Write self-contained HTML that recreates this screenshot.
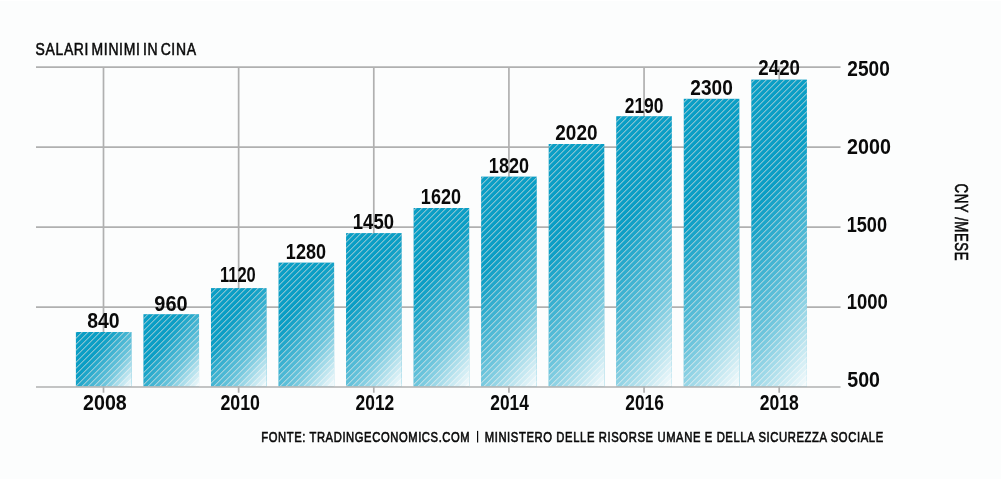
<!DOCTYPE html>
<html><head><meta charset="utf-8"><title>Salari minimi in Cina</title><style>
html,body{margin:0;padding:0;background:#fcfdfd;}
svg{display:block;}
text{font-family:"Liberation Sans",sans-serif;fill:#0a0a0a;}
</style></head><body>
<svg width="1001" height="479" viewBox="0 0 1001 479">
<defs>
</defs>
<rect x="0" y="1" width="1001" height="478" fill="#fcfdfd"/>
<rect x="0" y="0" width="1001" height="1" fill="#ffffff"/>

<line x1="36" y1="67.10" x2="840.5" y2="67.10" stroke="#b0b0b0" stroke-width="1.7"/>
<line x1="36" y1="147.10" x2="840.5" y2="147.10" stroke="#b0b0b0" stroke-width="1.7"/>
<line x1="36" y1="227.10" x2="840.5" y2="227.10" stroke="#b0b0b0" stroke-width="1.7"/>
<line x1="36" y1="307.10" x2="840.5" y2="307.10" stroke="#b0b0b0" stroke-width="1.7"/>
<line x1="103.50" y1="67.10" x2="103.50" y2="392.7" stroke="#b0b0b0" stroke-width="1.7"/>
<line x1="238.64" y1="67.10" x2="238.64" y2="392.7" stroke="#b0b0b0" stroke-width="1.7"/>
<line x1="373.78" y1="67.10" x2="373.78" y2="392.7" stroke="#b0b0b0" stroke-width="1.7"/>
<line x1="508.92" y1="67.10" x2="508.92" y2="392.7" stroke="#b0b0b0" stroke-width="1.7"/>
<line x1="644.06" y1="67.10" x2="644.06" y2="392.7" stroke="#b0b0b0" stroke-width="1.7"/>
<line x1="779.20" y1="67.10" x2="779.20" y2="392.7" stroke="#b0b0b0" stroke-width="1.7"/>
<rect x="75.90" y="332.00" width="55.6" height="54.50" fill="#0a9ec5"/>
<rect x="143.44" y="314.20" width="55.6" height="72.30" fill="#0a9ec5"/>
<rect x="210.98" y="288.10" width="55.6" height="98.40" fill="#0a9ec5"/>
<rect x="278.52" y="262.60" width="55.6" height="123.90" fill="#0a9ec5"/>
<rect x="346.06" y="233.10" width="55.6" height="153.40" fill="#0a9ec5"/>
<rect x="413.60" y="208.00" width="55.6" height="178.50" fill="#0a9ec5"/>
<rect x="481.14" y="176.60" width="55.6" height="209.90" fill="#0a9ec5"/>
<rect x="548.68" y="144.00" width="55.6" height="242.50" fill="#0a9ec5"/>
<rect x="616.22" y="116.20" width="55.6" height="270.30" fill="#0a9ec5"/>
<rect x="683.76" y="98.80" width="55.6" height="287.70" fill="#0a9ec5"/>
<rect x="751.30" y="79.60" width="55.6" height="306.90" fill="#0a9ec5"/>
<clipPath id="bc"><rect x="75.90" y="332.00" width="55.6" height="54.50"/><rect x="143.44" y="314.20" width="55.6" height="72.30"/><rect x="210.98" y="288.10" width="55.6" height="98.40"/><rect x="278.52" y="262.60" width="55.6" height="123.90"/><rect x="346.06" y="233.10" width="55.6" height="153.40"/><rect x="413.60" y="208.00" width="55.6" height="178.50"/><rect x="481.14" y="176.60" width="55.6" height="209.90"/><rect x="548.68" y="144.00" width="55.6" height="242.50"/><rect x="616.22" y="116.20" width="55.6" height="270.30"/><rect x="683.76" y="98.80" width="55.6" height="287.70"/><rect x="751.30" y="79.60" width="55.6" height="306.90"/></clipPath>
<path clip-path="url(#bc)" d="M-339.65 400L0.35 60M-333.65 400L6.35 60M-327.65 400L12.35 60M-321.65 400L18.35 60M-315.65 400L24.35 60M-309.65 400L30.35 60M-303.65 400L36.35 60M-297.65 400L42.35 60M-291.65 400L48.35 60M-285.65 400L54.35 60M-279.65 400L60.35 60M-273.65 400L66.35 60M-267.65 400L72.35 60M-261.65 400L78.35 60M-255.65 400L84.35 60M-249.65 400L90.35 60M-243.65 400L96.35 60M-237.65 400L102.35 60M-231.65 400L108.35 60M-225.65 400L114.35 60M-219.65 400L120.35 60M-213.65 400L126.35 60M-207.65 400L132.35 60M-201.65 400L138.35 60M-195.65 400L144.35 60M-189.65 400L150.35 60M-183.65 400L156.35 60M-177.65 400L162.35 60M-171.65 400L168.35 60M-165.65 400L174.35 60M-159.65 400L180.35 60M-153.65 400L186.35 60M-147.65 400L192.35 60M-141.65 400L198.35 60M-135.65 400L204.35 60M-129.65 400L210.35 60M-123.65 400L216.35 60M-117.65 400L222.35 60M-111.65 400L228.35 60M-105.65 400L234.35 60M-99.65 400L240.35 60M-93.65 400L246.35 60M-87.65 400L252.35 60M-81.65 400L258.35 60M-75.65 400L264.35 60M-69.65 400L270.35 60M-63.65 400L276.35 60M-57.65 400L282.35 60M-51.65 400L288.35 60M-45.65 400L294.35 60M-39.65 400L300.35 60M-33.65 400L306.35 60M-27.65 400L312.35 60M-21.65 400L318.35 60M-15.65 400L324.35 60M-9.65 400L330.35 60M-3.65 400L336.35 60M2.35 400L342.35 60M8.35 400L348.35 60M14.35 400L354.35 60M20.35 400L360.35 60M26.35 400L366.35 60M32.35 400L372.35 60M38.35 400L378.35 60M44.35 400L384.35 60M50.35 400L390.35 60M56.35 400L396.35 60M62.35 400L402.35 60M68.35 400L408.35 60M74.35 400L414.35 60M80.35 400L420.35 60M86.35 400L426.35 60M92.35 400L432.35 60M98.35 400L438.35 60M104.35 400L444.35 60M110.35 400L450.35 60M116.35 400L456.35 60M122.35 400L462.35 60M128.35 400L468.35 60M134.35 400L474.35 60M140.35 400L480.35 60M146.35 400L486.35 60M152.35 400L492.35 60M158.35 400L498.35 60M164.35 400L504.35 60M170.35 400L510.35 60M176.35 400L516.35 60M182.35 400L522.35 60M188.35 400L528.35 60M194.35 400L534.35 60M200.35 400L540.35 60M206.35 400L546.35 60M212.35 400L552.35 60M218.35 400L558.35 60M224.35 400L564.35 60M230.35 400L570.35 60M236.35 400L576.35 60M242.35 400L582.35 60M248.35 400L588.35 60M254.35 400L594.35 60M260.35 400L600.35 60M266.35 400L606.35 60M272.35 400L612.35 60M278.35 400L618.35 60M284.35 400L624.35 60M290.35 400L630.35 60M296.35 400L636.35 60M302.35 400L642.35 60M308.35 400L648.35 60M314.35 400L654.35 60M320.35 400L660.35 60M326.35 400L666.35 60M332.35 400L672.35 60M338.35 400L678.35 60M344.35 400L684.35 60M350.35 400L690.35 60M356.35 400L696.35 60M362.35 400L702.35 60M368.35 400L708.35 60M374.35 400L714.35 60M380.35 400L720.35 60M386.35 400L726.35 60M392.35 400L732.35 60M398.35 400L738.35 60M404.35 400L744.35 60M410.35 400L750.35 60M416.35 400L756.35 60M422.35 400L762.35 60M428.35 400L768.35 60M434.35 400L774.35 60M440.35 400L780.35 60M446.35 400L786.35 60M452.35 400L792.35 60M458.35 400L798.35 60M464.35 400L804.35 60M470.35 400L810.35 60M476.35 400L816.35 60M482.35 400L822.35 60M488.35 400L828.35 60M494.35 400L834.35 60M500.35 400L840.35 60M506.35 400L846.35 60M512.35 400L852.35 60M518.35 400L858.35 60M524.35 400L864.35 60M530.35 400L870.35 60M536.35 400L876.35 60M542.35 400L882.35 60M548.35 400L888.35 60M554.35 400L894.35 60M560.35 400L900.35 60M566.35 400L906.35 60M572.35 400L912.35 60M578.35 400L918.35 60M584.35 400L924.35 60M590.35 400L930.35 60M596.35 400L936.35 60M602.35 400L942.35 60M608.35 400L948.35 60M614.35 400L954.35 60M620.35 400L960.35 60M626.35 400L966.35 60M632.35 400L972.35 60M638.35 400L978.35 60M644.35 400L984.35 60M650.35 400L990.35 60M656.35 400L996.35 60M662.35 400L1002.35 60M668.35 400L1008.35 60M674.35 400L1014.35 60M680.35 400L1020.35 60M686.35 400L1026.35 60M692.35 400L1032.35 60M698.35 400L1038.35 60M704.35 400L1044.35 60M710.35 400L1050.35 60M716.35 400L1056.35 60M722.35 400L1062.35 60M728.35 400L1068.35 60M734.35 400L1074.35 60M740.35 400L1080.35 60M746.35 400L1086.35 60M752.35 400L1092.35 60M758.35 400L1098.35 60M764.35 400L1104.35 60M770.35 400L1110.35 60M776.35 400L1116.35 60M782.35 400L1122.35 60M788.35 400L1128.35 60M794.35 400L1134.35 60M800.35 400L1140.35 60M806.35 400L1146.35 60M812.35 400L1152.35 60M818.35 400L1158.35 60M824.35 400L1164.35 60M830.35 400L1170.35 60M836.35 400L1176.35 60M842.35 400L1182.35 60M848.35 400L1188.35 60M854.35 400L1194.35 60M860.35 400L1200.35 60M866.35 400L1206.35 60M872.35 400L1212.35 60M878.35 400L1218.35 60M884.35 400L1224.35 60M890.35 400L1230.35 60M896.35 400L1236.35 60" stroke="#d2dadc" stroke-opacity="0.9" stroke-width="1.0" fill="none"/>
<linearGradient id="g0" gradientUnits="userSpaceOnUse" x1="75.90" y1="332.00" x2="138.81" y2="376.05"><stop offset="0" stop-color="#ffffff" stop-opacity="0"/><stop offset="0.35" stop-color="#ffffff" stop-opacity="0"/><stop offset="0.7" stop-color="#ffffff" stop-opacity="0.4"/><stop offset="1" stop-color="#ffffff" stop-opacity="0.97"/></linearGradient>
<rect x="75.90" y="332.00" width="55.6" height="54.50" fill="url(#g0)"/>
<linearGradient id="g1" gradientUnits="userSpaceOnUse" x1="143.44" y1="314.20" x2="214.72" y2="364.11"><stop offset="0" stop-color="#ffffff" stop-opacity="0"/><stop offset="0.35" stop-color="#ffffff" stop-opacity="0"/><stop offset="0.7" stop-color="#ffffff" stop-opacity="0.4"/><stop offset="1" stop-color="#ffffff" stop-opacity="0.97"/></linearGradient>
<rect x="143.44" y="314.20" width="55.6" height="72.30" fill="url(#g1)"/>
<linearGradient id="g2" gradientUnits="userSpaceOnUse" x1="210.98" y1="288.10" x2="294.52" y2="346.60"><stop offset="0" stop-color="#ffffff" stop-opacity="0"/><stop offset="0.35" stop-color="#ffffff" stop-opacity="0"/><stop offset="0.7" stop-color="#ffffff" stop-opacity="0.4"/><stop offset="1" stop-color="#ffffff" stop-opacity="0.97"/></linearGradient>
<rect x="210.98" y="288.10" width="55.6" height="98.40" fill="url(#g2)"/>
<linearGradient id="g3" gradientUnits="userSpaceOnUse" x1="278.52" y1="262.60" x2="374.04" y2="329.49"><stop offset="0" stop-color="#ffffff" stop-opacity="0"/><stop offset="0.35" stop-color="#ffffff" stop-opacity="0"/><stop offset="0.7" stop-color="#ffffff" stop-opacity="0.4"/><stop offset="1" stop-color="#ffffff" stop-opacity="0.97"/></linearGradient>
<rect x="278.52" y="262.60" width="55.6" height="123.90" fill="url(#g3)"/>
<linearGradient id="g4" gradientUnits="userSpaceOnUse" x1="346.06" y1="233.10" x2="455.44" y2="309.69"><stop offset="0" stop-color="#ffffff" stop-opacity="0"/><stop offset="0.35" stop-color="#ffffff" stop-opacity="0"/><stop offset="0.7" stop-color="#ffffff" stop-opacity="0.4"/><stop offset="1" stop-color="#ffffff" stop-opacity="0.97"/></linearGradient>
<rect x="346.06" y="233.10" width="55.6" height="153.40" fill="url(#g4)"/>
<linearGradient id="g5" gradientUnits="userSpaceOnUse" x1="413.60" y1="208.00" x2="534.78" y2="292.85"><stop offset="0" stop-color="#ffffff" stop-opacity="0"/><stop offset="0.35" stop-color="#ffffff" stop-opacity="0"/><stop offset="0.7" stop-color="#ffffff" stop-opacity="0.4"/><stop offset="1" stop-color="#ffffff" stop-opacity="0.97"/></linearGradient>
<rect x="413.60" y="208.00" width="55.6" height="178.50" fill="url(#g5)"/>
<linearGradient id="g6" gradientUnits="userSpaceOnUse" x1="481.14" y1="176.60" x2="617.07" y2="271.78"><stop offset="0" stop-color="#ffffff" stop-opacity="0"/><stop offset="0.35" stop-color="#ffffff" stop-opacity="0"/><stop offset="0.7" stop-color="#ffffff" stop-opacity="0.4"/><stop offset="1" stop-color="#ffffff" stop-opacity="0.97"/></linearGradient>
<rect x="481.14" y="176.60" width="55.6" height="209.90" fill="url(#g6)"/>
<linearGradient id="g7" gradientUnits="userSpaceOnUse" x1="548.68" y1="144.00" x2="699.93" y2="249.90"><stop offset="0" stop-color="#ffffff" stop-opacity="0"/><stop offset="0.35" stop-color="#ffffff" stop-opacity="0"/><stop offset="0.7" stop-color="#ffffff" stop-opacity="0.4"/><stop offset="1" stop-color="#ffffff" stop-opacity="0.97"/></linearGradient>
<rect x="548.68" y="144.00" width="55.6" height="242.50" fill="url(#g7)"/>
<linearGradient id="g8" gradientUnits="userSpaceOnUse" x1="616.22" y1="116.20" x2="780.53" y2="231.25"><stop offset="0" stop-color="#ffffff" stop-opacity="0"/><stop offset="0.35" stop-color="#ffffff" stop-opacity="0"/><stop offset="0.7" stop-color="#ffffff" stop-opacity="0.4"/><stop offset="1" stop-color="#ffffff" stop-opacity="0.97"/></linearGradient>
<rect x="616.22" y="116.20" width="55.6" height="270.30" fill="url(#g8)"/>
<linearGradient id="g9" gradientUnits="userSpaceOnUse" x1="683.76" y1="98.80" x2="856.24" y2="219.57"><stop offset="0" stop-color="#ffffff" stop-opacity="0"/><stop offset="0.35" stop-color="#ffffff" stop-opacity="0"/><stop offset="0.7" stop-color="#ffffff" stop-opacity="0.4"/><stop offset="1" stop-color="#ffffff" stop-opacity="0.97"/></linearGradient>
<rect x="683.76" y="98.80" width="55.6" height="287.70" fill="url(#g9)"/>
<linearGradient id="g10" gradientUnits="userSpaceOnUse" x1="751.30" y1="79.60" x2="932.80" y2="206.69"><stop offset="0" stop-color="#ffffff" stop-opacity="0"/><stop offset="0.35" stop-color="#ffffff" stop-opacity="0"/><stop offset="0.7" stop-color="#ffffff" stop-opacity="0.4"/><stop offset="1" stop-color="#ffffff" stop-opacity="0.97"/></linearGradient>
<rect x="751.30" y="79.60" width="55.6" height="306.90" fill="url(#g10)"/>
<line x1="36" y1="387.0" x2="840.5" y2="387.0" stroke="#b0b0b0" stroke-width="1.7"/>
<g style="will-change:transform">
<text x="87.18" y="327.60" font-size="22.5" font-weight="bold" textLength="32.41" lengthAdjust="spacingAndGlyphs">840</text>
<text x="154.31" y="310.60" font-size="22.5" font-weight="bold" textLength="33.31" lengthAdjust="spacingAndGlyphs">960</text>
<text x="219.99" y="281.90" font-size="22.5" font-weight="bold" textLength="35.77" lengthAdjust="spacingAndGlyphs">1120</text>
<text x="285.87" y="258.80" font-size="22.5" font-weight="bold" textLength="40.07" lengthAdjust="spacingAndGlyphs">1280</text>
<text x="352.84" y="228.80" font-size="22.5" font-weight="bold" textLength="41.12" lengthAdjust="spacingAndGlyphs">1450</text>
<text x="420.87" y="203.80" font-size="22.5" font-weight="bold" textLength="40.07" lengthAdjust="spacingAndGlyphs">1620</text>
<text x="488.87" y="172.70" font-size="22.5" font-weight="bold" textLength="40.07" lengthAdjust="spacingAndGlyphs">1820</text>
<text x="555.34" y="139.70" font-size="22.5" font-weight="bold" textLength="42.13" lengthAdjust="spacingAndGlyphs">2020</text>
<text x="624.70" y="112.70" font-size="22.5" font-weight="bold" textLength="38.82" lengthAdjust="spacingAndGlyphs">2190</text>
<text x="690.34" y="94.70" font-size="22.5" font-weight="bold" textLength="42.44" lengthAdjust="spacingAndGlyphs">2300</text>
<text x="758.35" y="74.70" font-size="22.5" font-weight="bold" textLength="41.62" lengthAdjust="spacingAndGlyphs">2420</text>
<text x="83.12" y="409.90" font-size="22.5" font-weight="bold" textLength="43.68" lengthAdjust="spacingAndGlyphs">2008</text>
<text x="220.38" y="409.90" font-size="22.5" font-weight="bold" textLength="39.55" lengthAdjust="spacingAndGlyphs">2010</text>
<text x="355.60" y="409.90" font-size="22.5" font-weight="bold" textLength="38.60" lengthAdjust="spacingAndGlyphs">2012</text>
<text x="490.30" y="409.90" font-size="22.5" font-weight="bold" textLength="38.59" lengthAdjust="spacingAndGlyphs">2014</text>
<text x="625.30" y="409.90" font-size="22.5" font-weight="bold" textLength="38.53" lengthAdjust="spacingAndGlyphs">2016</text>
<text x="759.69" y="409.90" font-size="22.5" font-weight="bold" textLength="39.05" lengthAdjust="spacingAndGlyphs">2018</text>
<text x="847.34" y="75.90" font-size="22.5" font-weight="bold" textLength="42.44" lengthAdjust="spacingAndGlyphs">2500</text>
<text x="847.12" y="153.90" font-size="22.5" font-weight="bold" textLength="43.79" lengthAdjust="spacingAndGlyphs">2000</text>
<text x="846.66" y="231.90" font-size="22.5" font-weight="bold" textLength="40.39" lengthAdjust="spacingAndGlyphs">1500</text>
<text x="846.64" y="309.10" font-size="22.5" font-weight="bold" textLength="41.12" lengthAdjust="spacingAndGlyphs">1000</text>
<text x="847.30" y="386.90" font-size="22.5" font-weight="bold" textLength="32.71" lengthAdjust="spacingAndGlyphs">500</text>
<text x="35.57" y="54.90" font-size="17.0" font-weight="normal" letter-spacing="0.8" word-spacing="-2.5" textLength="161.02" lengthAdjust="spacingAndGlyphs" stroke="#0a0a0a" stroke-width="0.55">SALARI MINIMI IN CINA</text>
<text x="261.28" y="441.70" font-size="14.8" font-weight="normal" letter-spacing="0.8" textLength="209.04" lengthAdjust="spacingAndGlyphs" stroke="#0a0a0a" stroke-width="0.65">FONTE: TRADINGECONOMICS.COM</text>
<rect x="477.0" y="430.9" width="1.2" height="11.6" fill="#0a0a0a"/>
<text x="484.68" y="441.70" font-size="14.8" font-weight="normal" letter-spacing="0.8" textLength="399.11" lengthAdjust="spacingAndGlyphs" stroke="#0a0a0a" stroke-width="0.65">MINISTERO DELLE RISORSE UMANE E DELLA SICUREZZA SOCIALE</text>
<g transform="translate(954.9,0) rotate(90)"><text x="183.53" y="0.00" font-size="19.0" font-weight="normal" letter-spacing="0.8" textLength="77.59" lengthAdjust="spacingAndGlyphs" stroke="#0a0a0a" stroke-width="0.6">CNY /MESE</text></g>
</g>
</svg></body></html>
